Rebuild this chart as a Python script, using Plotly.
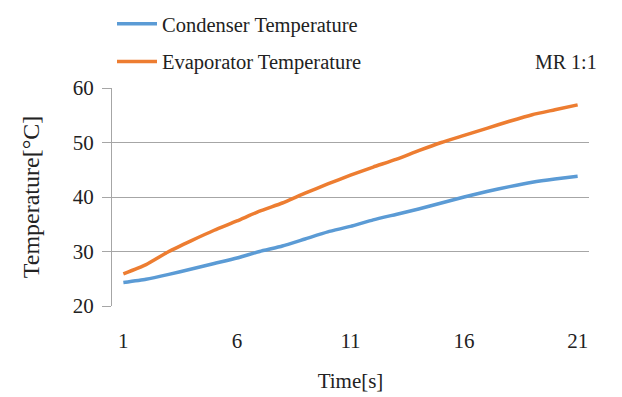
import plotly.graph_objects as go

time_s = list(range(1, 22))
condenser = [24.3, 24.9, 25.8, 26.8, 27.8, 28.8, 30.0, 31.0, 32.3, 33.6, 34.6,
             35.8, 36.8, 37.8, 38.9, 40.0, 41.0, 41.9, 42.7, 43.3, 43.8]
evaporator = [25.9, 27.6, 30.0, 32.0, 33.9, 35.6, 37.4, 38.9, 40.7, 42.4, 44.0,
              45.5, 46.9, 48.5, 50.0, 51.3, 52.6, 53.9, 55.1, 56.0, 56.9]
x_ticks = [1, 6, 11, 16, 21]
y_ticks = [20, 30, 40, 50, 60]

FONT = "Liberation Serif"
FS = 20
TXT = "#222"

fig = go.Figure()
fig.add_trace(go.Scatter(x=time_s, y=condenser, mode="lines", name="Condenser Temperature",
                         line=dict(color="#5B9BD5", width=3.5, shape="spline", smoothing=0.5),
                         legendgroup="a"))
fig.add_trace(go.Scatter(x=time_s, y=evaporator, mode="lines", name="Evaporator Temperature",
                         line=dict(color="#ED7D31", width=3.5, shape="spline", smoothing=0.5),
                         legendgroup="b"))

fig.update_layout(
    width=622, height=397,
    margin=dict(l=112, r=33, t=88, b=91, autoexpand=False),
    paper_bgcolor="white", plot_bgcolor="white",
    font=dict(family=FONT, size=FS, color=TXT),
    showlegend=True,
    legend=dict(x=0.0, y=0.99, xref="paper", yref="container", xanchor="left", yanchor="top",
                font=dict(family=FONT, size=FS + 0.5, color=TXT), traceorder="grouped",
                tracegroupgap=8, bgcolor="rgba(0,0,0,0)", itemwidth=40,
                orientation="v"),
    xaxis=dict(range=[0.5, 21.5], tickvals=x_ticks, ticktext=[str(v) for v in x_ticks],
               showgrid=False, zeroline=False, showline=False, ticks="",
               ticklabelstandoff=20, tickfont=dict(family=FONT, size=FS + 1, color=TXT),
               title=dict(text="Time[s]", font=dict(family=FONT, size=FS + 1, color=TXT), standoff=21)),
    yaxis=dict(range=[20, 60], tickvals=y_ticks, showgrid=True, gridcolor="#a6a6a6", gridwidth=1.3,
               zeroline=False, showline=True, linecolor="#a6a6a6", linewidth=1.3,
               ticks="outside", ticklen=9, tickcolor="#a6a6a6", tickwidth=1.3,
               ticklabelstandoff=4, tickfont=dict(family=FONT, size=FS + 1, color=TXT),
               title=dict(text="Temperature[°C]", font=dict(family=FONT, size=24, color=TXT), standoff=26)),
)
fig.add_annotation(text="MR 1:1", xref="paper", yref="paper", x=1.02, y=1.0, yshift=26,
                   xanchor="right", yanchor="middle", showarrow=False,
                   font=dict(family=FONT, size=FS, color=TXT))

fig.write_html("out.html")
